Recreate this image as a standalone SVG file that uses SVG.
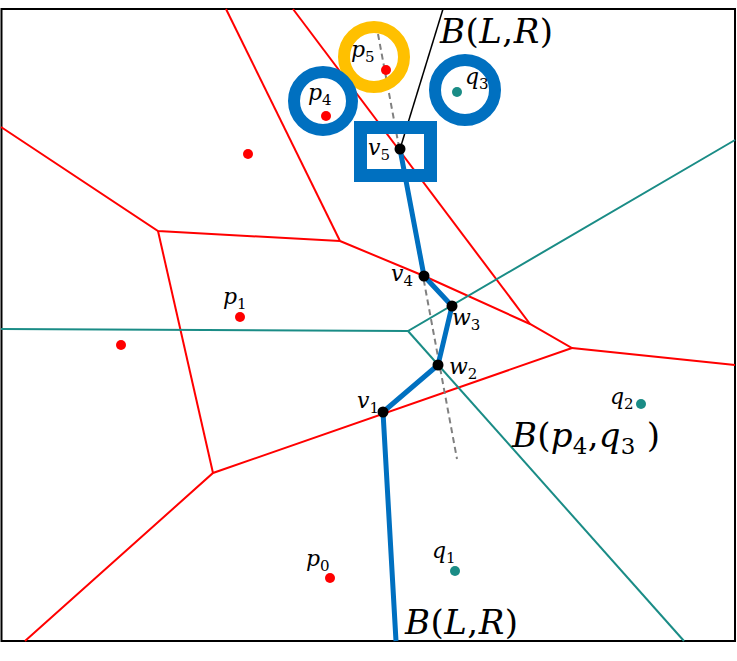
<svg xmlns="http://www.w3.org/2000/svg" width="737" height="661" viewBox="0 0 737 661">
<style>
.red{stroke:#FF0000;stroke-width:2;fill:none}
.teal{stroke:#1A8C86;stroke-width:2;fill:none}
.blue{stroke:#0070C0;stroke-width:5;fill:none;stroke-linejoin:round}
.thin{stroke:#000;stroke-width:1.5;fill:none}
.dash{stroke:#808080;stroke-width:2;fill:none;stroke-dasharray:6,4}
.ring{fill:none;stroke-width:12}
.rp{fill:#FF0000}
.tp{fill:#1A8C86}
.bp{fill:#000}
text{font-family:"DejaVu Serif","Liberation Serif",serif;fill:#000}
.lbl{font-size:22px;font-style:italic}
.sub{font-size:15px;font-style:normal}
.big{font-size:34px}
.it{font-style:italic}
</style>
<rect x="0" y="0" width="737" height="661" fill="#fff"/>
<rect x="1.5" y="9" width="733.5" height="632" fill="none" stroke="#000" stroke-width="2"/>
<g id="connectors">
<polyline class="red" points="226,9 340,241"/>
<polyline class="red" points="293,9 530,324"/>
<polyline class="red" points="1,127 158,231 340,241"/>
<polyline class="red" points="158,231 213,473"/>
<polyline class="red" points="340,241 424,276 530,324 572,348 735,365"/>
<polyline class="red" points="572,348 213,473 25,641"/>
<polyline class="teal" points="1,329 408,331 735,140"/>
<polyline class="teal" points="408,331 684,641"/>
<line class="dash" x1="378" y1="34" x2="457" y2="459"/>
<line class="thin" x1="400" y1="149" x2="443" y2="9"/>
<polyline class="blue" points="400,149 424,276 452,306 438,365 383,412 396,641"/>
</g>
<g id="highlight-p5"><circle class="ring" cx="374" cy="57" r="30" stroke="#FFC000"/></g>
<g id="highlight-p4"><circle class="ring" cx="323" cy="101" r="29" stroke="#0070C0"/></g>
<g id="highlight-q3"><circle class="ring" cx="465" cy="90" r="30" stroke="#0070C0"/></g>
<g id="highlight-v5"><rect x="360.5" y="127.5" width="70" height="48" fill="none" stroke="#0070C0" stroke-width="13"/></g>
<g id="p5"><circle class="rp" cx="386" cy="70" r="5"/><text class="lbl" x="351" y="57">p<tspan class="sub" dy="5">5</tspan></text></g>
<g id="p4"><circle class="rp" cx="326" cy="116" r="5"/><text class="lbl" x="308" y="100">p<tspan class="sub" dy="5">4</tspan></text></g>
<g id="p3"><circle class="rp" cx="248" cy="154" r="5"/></g>
<g id="p1"><circle class="rp" cx="240" cy="317" r="5"/><text class="lbl" x="223" y="304">p<tspan class="sub" dy="5">1</tspan></text></g>
<g id="p2"><circle class="rp" cx="121" cy="345" r="5"/></g>
<g id="p0"><circle class="rp" cx="330" cy="578" r="5"/><text class="lbl" x="306" y="566">p<tspan class="sub" dy="5">0</tspan></text></g>
<g id="q3"><circle class="tp" cx="457" cy="92" r="5"/><text class="lbl" x="465" y="84">q<tspan class="sub" dy="5">3</tspan></text></g>
<g id="q2"><circle class="tp" cx="641" cy="404" r="5"/><text class="lbl" x="610" y="404">q<tspan class="sub" dy="5">2</tspan></text></g>
<g id="q1"><circle class="tp" cx="455" cy="571" r="5"/><text class="lbl" x="432" y="558">q<tspan class="sub" dy="5">1</tspan></text></g>
<g id="v5"><circle class="bp" cx="400" cy="149" r="5.5"/><text class="lbl" x="368" y="155">v<tspan class="sub" dy="5">5</tspan></text></g>
<g id="v4"><circle class="bp" cx="424" cy="276" r="5.5"/><text class="lbl" x="391" y="281">v<tspan class="sub" dy="5">4</tspan></text></g>
<g id="w3"><circle class="bp" cx="452" cy="306" r="5.5"/><text class="lbl" x="452" y="325">w<tspan class="sub" dy="5">3</tspan></text></g>
<g id="w2"><circle class="bp" cx="438" cy="365" r="5.5"/><text class="lbl" x="449" y="374">w<tspan class="sub" dy="5">2</tspan></text></g>
<g id="v1"><circle class="bp" cx="383" cy="412" r="5.5"/><text class="lbl" x="357" y="408">v<tspan class="sub" dy="5">1</tspan></text></g>
<g id="label-BLR-top"><text class="big" x="440" y="43" textLength="113" lengthAdjust="spacing"><tspan class="it">B</tspan>(<tspan class="it">L</tspan>,<tspan class="it">R</tspan>)</text></g>
<g id="label-BLR-bottom"><text class="big" x="405" y="634" textLength="113" lengthAdjust="spacing"><tspan class="it">B</tspan>(<tspan class="it">L</tspan>,<tspan class="it">R</tspan>)</text></g>
<g id="label-Bp4q3"><text class="big" x="512" y="447" textLength="148" lengthAdjust="spacing"><tspan class="it">B</tspan>(<tspan class="it">p</tspan><tspan font-size="23" dy="7">4</tspan><tspan dy="-7">,</tspan><tspan class="it">q</tspan><tspan font-size="23" dy="7">3</tspan><tspan dy="-7"> )</tspan></text></g>
</svg>
